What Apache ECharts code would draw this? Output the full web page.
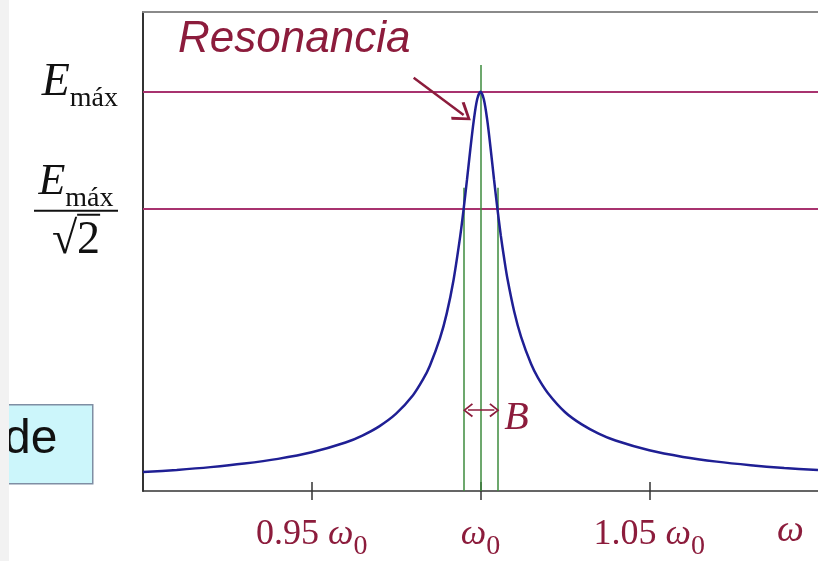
<!DOCTYPE html>
<html>
<head>
<meta charset="utf-8">
<script src="https://cdn.jsdelivr.net/npm/echarts@6/dist/echarts.min.js"></script>
<style>
  html, body { margin: 0; padding: 0; background: #ffffff; }
  #chart { width: 818px; height: 561px; }
</style>
</head>
<body>
<div id="chart"></div>
<script>
// Resonance curve of a series RLC circuit: relative energy vs. angular frequency (in units of ω0)
const omega = [0.90, 0.91, 0.92, 0.93, 0.94, 0.95, 0.96, 0.965, 0.97, 0.975, 0.98, 0.983, 0.985, 0.988,
               0.99, 0.992, 0.994, 0.995, 0.996, 0.997, 0.998, 0.999, 1.000,
               1.001, 1.002, 1.003, 1.004, 1.005, 1.006, 1.007, 1.008, 1.010, 1.012, 1.015, 1.017,
               1.02, 1.025, 1.03, 1.035, 1.04, 1.05, 1.06, 1.07, 1.08, 1.09, 1.10];
const energy = [0.0473, 0.0529, 0.0598, 0.0687, 0.0805, 0.0970, 0.1215, 0.139, 0.162, 0.1937, 0.240, 0.280, 0.314, 0.383,
                0.445, 0.528, 0.639, 0.706, 0.780, 0.857, 0.928, 0.981, 1.000,
                0.981, 0.929, 0.858, 0.781, 0.708, 0.641, 0.583, 0.531, 0.449, 0.387, 0.318, 0.284,
                0.245, 0.198, 0.1668, 0.1438, 0.1264, 0.1019, 0.0854, 0.0736, 0.0648, 0.0578, 0.0523];

// Tick positions on the frequency axis and the two reference energy levels
const freqTicks = [0.95, 1.0, 1.05];
const freqTickText = { 0.95: '0.95 ', 1: '', 1.05: '1.05 ' };
const eMax = 1.0;
const eHalfPower = 0.70711;
// Half-power (band edge) frequencies and the vertical extent of the guide lines
const bandEdges = [0.995, 1.005];
const bandGuideTop = 0.76;
const centerGuideTop = 1.0675;
// Annotation anchors (data units)
const resonanceArrow = [[0.9802, 1.035], [0.9950, 0.942]];
const bandArrow = [0.9963, 1.0041];
const bandArrowLevel = 0.2025;

const RED = '#8c1c3c';
const MAGENTA = '#a8336f';
const GREEN = '#3d8b3d';
const BLUE = '#1f1f94';
const SERIF = '"Liberation Serif", "Times New Roman", serif';
const SANS = '"Liberation Sans", Arial, sans-serif';

// thin bar drawn on top of a text fragment (vinculum of the square root);
// the canvas is stretched over the 46px-high fragment box
const overline = document.createElement('canvas');
overline.width = 4; overline.height = 46;
(function () {
  const c = overline.getContext('2d');
  c.fillStyle = '#111';
  c.fillRect(0, 5, 4, 2);
})();

const chevron = 'path://M10,0 L20,15 L18,17 L10,4.5 L2,17 L0,15 Z';

const chart = echarts.init(document.getElementById('chart'), null, { renderer: 'canvas' });

const xCommon = { type: 'value', min: 0.9, max: 1.1, splitLine: { show: false } };

chart.setOption({
  animation: false,
  backgroundColor: '#ffffff',
  grid: { left: 143, right: 0, top: 12, bottom: 69, containLabel: false },
  xAxis: [
    Object.assign({}, xCommon, {
      position: 'bottom',
      axisLine: { show: true, onZero: false, lineStyle: { color: '#333', width: 1.5 } },
      axisTick: { show: true, customValues: freqTicks, length: 9, lineStyle: { color: '#333', width: 1.5 } },
      axisLabel: {
        show: true,
        customValues: freqTicks,
        margin: 24,
        formatter: function (v) {
          const pre = freqTickText[Math.round(v * 100) / 100];
          return (pre ? '{n|' + pre + '}' : '') + '{w|ω}{s|0}';
        },
        rich: {
          n: { fontFamily: SERIF, fontSize: 36, lineHeight: 40, color: RED },
          w: { fontFamily: SERIF, fontStyle: 'italic', fontSize: 36, lineHeight: 40, color: RED },
          s: { fontFamily: SERIF, fontSize: 28, lineHeight: 40, padding: [24, 0, 0, 0], color: RED }
        }
      }
    }),
    Object.assign({}, xCommon, {
      position: 'top',
      axisLine: { show: true, onZero: false, lineStyle: { color: '#8a8a8a', width: 2 } },
      axisTick: { show: false },
      axisLabel: { show: false }
    }),
    Object.assign({}, xCommon, {
      position: 'bottom',
      axisLine: { show: false },
      axisTick: { show: true, inside: true, customValues: freqTicks, length: 9, lineStyle: { color: '#333', width: 1.5 } },
      axisLabel: { show: false }
    })
  ],
  yAxis: {
    type: 'value',
    min: 0,
    max: 1.2,
    splitLine: { show: false },
    axisLine: { show: true, lineStyle: { color: '#333', width: 2 } },
    axisTick: { show: false },
    axisLabel: {
      show: true,
      customValues: [eHalfPower, eMax],
      margin: 25,
      formatter: function (v) {
        if (v > 0.9) return '{E|E}{m|máx}';
        return '{fE|E}{fm|máx}\n{bar| }\n{r|√}{t|2}';
      },
      rich: {
        E: { fontFamily: SERIF, fontStyle: 'italic', fontSize: 46, lineHeight: 44, padding: [0, 0, 18, 0], color: '#111' },
        m: { fontFamily: SERIF, fontSize: 28, lineHeight: 44, padding: [13, 0, 0, 0], color: '#111' },
        fE: { fontFamily: SERIF, fontStyle: 'italic', fontSize: 44, lineHeight: 44, padding: [0, 0, 10, 0], color: '#111', align: 'center' },
        fm: { fontFamily: SERIF, fontSize: 28, lineHeight: 44, padding: [21, 0, 0, 0], color: '#111', align: 'center' },
        bar: { fontSize: 1, lineHeight: 2, height: 2, width: 84, backgroundColor: '#111', align: 'center' },
        r: { fontFamily: SERIF, fontSize: 46, lineHeight: 40, height: 27, padding: [19, 0, 0, 0], color: '#111', align: 'center' },
        t: { fontFamily: SERIF, fontSize: 46, lineHeight: 40, height: 27, padding: [19, 0, 0, 0], color: '#111', align: 'center',
             backgroundColor: { image: overline } }
      }
    }
  },
  graphic: [
    { type: 'rect', left: 0, top: 0, z: 50, shape: { width: 9, height: 561 }, style: { fill: '#f2f2f2' } },
    { type: 'rect', left: 2, top: 404, z: 10, shape: { width: 90, height: 79 }, style: { fill: '#ccf6fb', stroke: '#7f8ea3', lineWidth: 1.5 } },
    { type: 'text', left: 4, top: 416, z: 11, style: { text: 'de', font: '48px ' + SANS, fill: '#111' } },
    { type: 'text', x: 178, y: 40, z: 20, style: { text: 'Resonancia', font: 'italic 44px ' + SANS, fill: RED, verticalAlign: 'middle' } },
    { type: 'text', x: 777, y: 531, z: 20, style: { text: 'ω', font: 'italic 38px ' + SERIF, fill: RED, verticalAlign: 'middle' } }
  ],
  series: [{
    type: 'line',
    xAxisIndex: 0,
    data: omega.map(function (w, i) { return [w, energy[i]]; }),
    smooth: 0.3,
    showSymbol: false,
    lineStyle: { color: BLUE, width: 2.5 },
    z: 5,
    markLine: {
      silent: true,
      animation: false,
      symbol: 'none',
      label: { show: false },
      data: [
        [{ coord: [0.9, eMax], symbol: 'none', lineStyle: { color: MAGENTA, width: 2, type: 'solid' } }, { coord: [1.1, eMax], symbol: 'none' }],
        [{ coord: [0.9, eHalfPower], symbol: 'none', lineStyle: { color: MAGENTA, width: 2, type: 'solid' } }, { coord: [1.1, eHalfPower], symbol: 'none' }],
        [{ coord: [1.0, 0], symbol: 'none', lineStyle: { color: GREEN, width: 1.5, type: 'solid' } }, { coord: [1.0, centerGuideTop], symbol: 'none' }],
        [{ coord: [bandEdges[0], 0], symbol: 'none', lineStyle: { color: GREEN, width: 1.5, type: 'solid' } }, { coord: [bandEdges[0], bandGuideTop], symbol: 'none' }],
        [{ coord: [bandEdges[1], 0], symbol: 'none', lineStyle: { color: GREEN, width: 1.5, type: 'solid' } }, { coord: [bandEdges[1], bandGuideTop], symbol: 'none' }],
        [{ coord: resonanceArrow[0], symbol: 'none', lineStyle: { color: RED, width: 2.5, type: 'solid' } },
         { coord: resonanceArrow[1], symbol: chevron, symbolSize: [22, 18] }],
        [{ coord: [bandArrow[0], bandArrowLevel], symbol: chevron, symbolSize: [14, 10], lineStyle: { color: RED, width: 1.5, type: 'solid' },
           label: { show: true, position: 'end', formatter: '{b|B}', distance: 10,
                    rich: { b: { fontFamily: SERIF, fontStyle: 'italic', fontSize: 40, lineHeight: 40, color: RED, padding: [16, 0, 0, 0] } } } },
         { coord: [bandArrow[1], bandArrowLevel], symbol: chevron, symbolSize: [14, 10] }]
      ]
    }
  }]
});
</script>
</body>
</html>
